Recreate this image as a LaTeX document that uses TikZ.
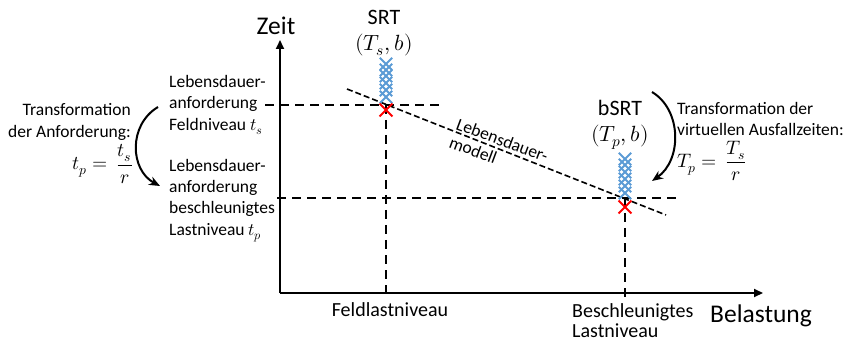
\documentclass[tikz,border=0pt]{standalone}
\usepackage{fontspec}
\usepackage{unicode-math}
\setmainfont{Carlito}
\setmathfont{Latin Modern Math}
\usetikzlibrary{arrows.meta,shapes.misc}
\definecolor{crossblue}{HTML}{5B9BD5}
\definecolor{crossred}{HTML}{FF0000}
\begin{document}
\begin{tikzpicture}[x=1pt,y=-1pt,
  axisline/.style={line width=2pt,-{Triangle[length=9pt,width=8pt]}},
  guide/.style={line width=2.2pt,dash pattern=on 9pt off 6pt},
  modelline/.style={line width=1.6pt,dash pattern=on 6pt off 3pt},
  curvearrow/.style={line width=2pt,-{Stealth[length=11pt,width=9pt]}},
  small/.style={font=\fontsize{17.5}{21.3}\selectfont,inner sep=0pt},
  formula/.style={font=\fontsize{19.5}{24}\selectfont,inner sep=0pt},
  mid/.style={font=\fontsize{20}{20}\selectfont,inner sep=0pt},
  srt/.style={font=\fontsize{22}{24}\selectfont,inner sep=0pt},
  big/.style={font=\fontsize{25.5}{26}\selectfont,inner sep=0pt},
  bx/.style={cross out,draw=crossblue,line width=1.8pt,minimum size=10.5pt,inner sep=0pt},
  rx/.style={cross out,draw=crossred,line width=1.8pt,minimum size=11pt,inner sep=0pt}]
\useasboundingbox (0,0) rectangle (853,347);
% coordinates
\coordinate (O) at (280,293);
\coordinate (ytop) at (280,40);
\coordinate (xend) at (763,293);
\coordinate (h1a) at (265,105);
\coordinate (h1b) at (443,105);
\coordinate (h2a) at (277,198);
\coordinate (h2b) at (678,198);
\coordinate (v1a) at (386,105);
\coordinate (v1b) at (386,299);
\coordinate (v2a) at (625,198);
\coordinate (v2b) at (625,300);
\coordinate (m1) at (347,89);
\coordinate (m2) at (666,215);
% guides
\draw[guide] (h1a) -- (h1b);
\draw[guide] (h2a) -- (h2b);
\draw[guide] (v1a) -- (v1b);
\draw[guide] (v2a) -- (v2b);
% axes
\draw[axisline] (O) -- (ytop);
\draw[axisline] (O) -- (xend);
% model line
\draw[modelline] (m1) -- (m2);
\node[small,anchor=base west,rotate=-20.5] (modlab1) at (455,129) {Lebensdauer-};
\node[small,anchor=base west,rotate=-20.5] (modlab2) at (448,147) {modell};
% crosses
\foreach \y [count=\i] in {64,70,76,83,90,97} {\node[bx] (sa\i) at (386,\y) {};}
\node[rx] (sr) at (386,110) {};
\foreach \y [count=\i] in {159,165,172,179,186,193} {\node[bx] (pa\i) at (625,\y) {};}
\node[rx] (pr) at (625,207) {};
% labels
\node[big] (zeit) at (276,26) {Zeit};
\node[big,anchor=west] (bel) at (710,316) {Belastung};
\node[srt] (srtl) at (384,17) {SRT};
\node[srt] (srtm) at (384,45) {$(T_s,b)$};
\node[srt] (bsrtl) at (620,108) {bSRT};
\node[srt] (bsrtm) at (620,137) {$(T_p,b)$};
\node[small,align=left,anchor=west] (lfeld) at (169,105) {Lebensdauer-\\anforderung\\Feldniveau $t_s$};
\node[small,align=left,anchor=west] (lbes) at (169,200.5) {Lebensdauer-\\anforderung\\beschleunigtes\\Lastniveau $t_p$};
\node[small,align=right,anchor=east] (ltr) at (131,122) {Transformation\\der Anforderung:};
\node[formula,anchor=east] (lform) at (133,164) {$t_p=\,\dfrac{t_s}{r}$};
\node[small,align=left,anchor=west] (rtr) at (677,119) {Transformation der\\virtuellen Ausfallzeiten:};
\node[formula,anchor=west] (rform) at (677,161) {$T_p=\,\dfrac{T_s}{r}$};
\node[mid] (feld) at (390,310) {Feldlastniveau};
\node[mid,align=left,anchor=west] (besch) at (572,321) {Beschleunigtes\\Lastniveau};
% curved arrows
\coordinate (la) at (158,107);
\coordinate (lb) at (160,186);
\coordinate (ra) at (652,92);
\coordinate (rb) at (652,181);
\draw[curvearrow] (la) .. controls (128,125) and (130,170) .. (lb);
\draw[curvearrow] (ra) .. controls (682,110) and (682,160) .. (rb);
\end{tikzpicture}
\end{document}
